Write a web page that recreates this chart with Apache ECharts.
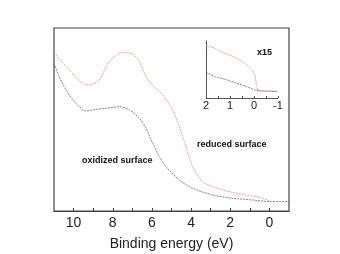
<!DOCTYPE html>
<html>
<head>
<meta charset="utf-8">
<script src="https://cdn.jsdelivr.net/npm/echarts@6/dist/echarts.min.js"></script>
<style>
  html, body { margin: 0; padding: 0; background: #fff; }
  #chart { width: 340px; height: 254px; }
</style>
</head>
<body>
<div id="chart"></div>
<script>
// main spectra: [binding energy eV, intensity a.u.]
const reducedMain = [
  [11, 158.3], [10.22, 141], [9.54, 127.7], [9.2, 126], [8.69, 131], [8.18, 149.3],
  [7.5, 158.7], [6.98, 157], [6.64, 149.3], [6.3, 134.3], [5.96, 126], [5.45, 116],
  [4.94, 101], [4.6, 84.3], [4.26, 64.3], [3.92, 44.3], [3.41, 29.3], [2.9, 24.3],
  [2.04, 19.3], [1.19, 16], [0.51, 13.7], [0, 10]
];
const oxidizedMain = [
  [11, 147.7], [10.73, 134.3], [10.39, 121], [9.88, 107.7], [9.37, 100], [8.86, 101.7],
  [8.34, 102.7], [7.66, 104.3], [7.15, 101], [6.64, 92.7], [6.3, 82.7], [5.96, 67.7],
  [5.62, 54.3], [5.28, 44.3], [4.6, 31], [3.92, 22.7], [2.9, 16], [1.87, 12.7],
  [0.85, 11], [0, 9.3], [-0.5, 9.5], [-1, 9.3]
];
// inset (x15) near the Fermi edge
const reducedInset = [
  [2, 52.3], [1.625, 49.7], [1.21, 44.7], [0.79, 40.7], [0.375, 34.7], [0.1, 28.7],
  [-0.04, 23], [-0.11, 11.3], [-0.18, 7.3], [-0.6, 7], [-1, 6.3]
];
const oxidizedInset = [
  [2, 25.7], [1.625, 21.3], [1.21, 18.7], [0.79, 15.3], [0.375, 12], [-0.04, 8],
  [-0.32, 7], [-1, 6.7]
];
const mainTicks = [0, 1, 2, 3, 4, 5, 6, 7, 8, 9, 10];
const mainLabels = [0, 2, 4, 6, 8, 10];
const insetTicks = [-1, -0.5, 0, 0.5, 1, 1.5, 2];
const insetLabels = [-1, 0, 1, 2];

const RED = "#e8808a";
const DARK = "#666";
const FONT = "Liberation Sans, Arial, sans-serif";

const chart = echarts.init(document.getElementById("chart"), null, { renderer: "canvas" });
chart.setOption({
  animation: false,
  backgroundColor: "#fff",
  textStyle: { fontFamily: FONT },
  grid: [
    { left: 54, right: 51, top: 28, bottom: 43, outerBoundsMode: "none", containLabel: false,
      show: true, borderColor: "#444", borderWidth: 1.2, backgroundColor: "transparent" },
    { left: 206, top: 41, width: 72, height: 57, outerBoundsMode: "none", containLabel: false },
  ],
  xAxis: [
    {
      gridIndex: 0, type: "value", inverse: true, min: -1, max: 11,
      axisLine: { show: true, lineStyle: { color: "#444", width: 1.2 } },
      axisTick: { inside: true, length: 3, customValues: mainTicks, lineStyle: { color: "#444" } },
      axisLabel: { customValues: mainLabels, color: "#222", fontSize: 14, margin: 5, fontFamily: FONT },
      splitLine: { show: false },
      name: "Binding energy (eV)", nameLocation: "middle", nameGap: 26,
      nameTextStyle: { color: "#222", fontSize: 14, fontFamily: FONT },
    },
    {
      gridIndex: 1, type: "value", inverse: true, min: -1, max: 2,
      axisLine: { show: true, onZero: false, lineStyle: { color: "#555", width: 1 } },
      axisTick: { inside: true, length: 2, customValues: insetTicks, lineStyle: { color: "#555" } },
      axisLabel: { customValues: insetLabels, color: "#222", fontSize: 11, margin: 2, fontFamily: FONT },
      splitLine: { show: false },
    },
  ],
  yAxis: [
    { gridIndex: 0, type: "value", min: 0, max: 183, show: false },
    {
      gridIndex: 1, type: "value", min: 0, max: 57,
      axisLine: { show: true, onZero: false, lineStyle: { color: "#555", width: 1 } },
      axisTick: { show: false }, axisLabel: { show: false }, splitLine: { show: false },
    },
  ],
  series: [
    { type: "line", xAxisIndex: 0, yAxisIndex: 0, data: reducedMain, smooth: 0.25, symbol: "none",
      lineStyle: { color: RED, width: 0.8, type: [2, 1] } },
    { type: "line", xAxisIndex: 0, yAxisIndex: 0, data: oxidizedMain, smooth: 0.25, symbol: "none",
      lineStyle: { color: DARK, width: 0.8, type: [2, 1] } },
    { type: "line", xAxisIndex: 1, yAxisIndex: 1, data: reducedInset, smooth: 0.15, symbol: "none",
      lineStyle: { color: RED, width: 0.8, type: [2, 1] } },
    { type: "line", xAxisIndex: 1, yAxisIndex: 1, data: oxidizedInset, smooth: 0.15, symbol: "none",
      lineStyle: { color: DARK, width: 0.8, type: [2, 1] } },
  ],
  graphic: [
    { type: "text", left: 82, top: 156, style: { text: "oxidized surface", fill: "#111", font: "bold 9px " + FONT } },
    { type: "text", left: 197, top: 140, style: { text: "reduced surface", fill: "#111", font: "bold 9px " + FONT } },
    { type: "text", left: 257, top: 48, style: { text: "x15", fill: "#111", font: "bold 9px " + FONT } },
  ],
});
</script>
</body>
</html>
